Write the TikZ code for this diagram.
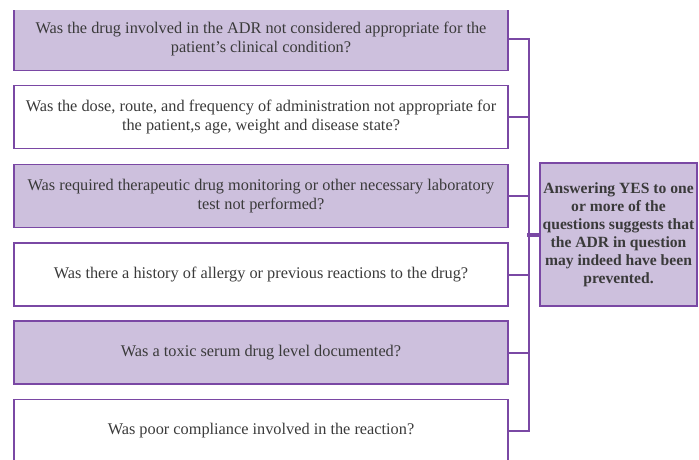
\documentclass[tikz,border=0pt]{standalone}
\usepackage{fontspec}
\setmainfont{Liberation Serif}
\usepackage{tikz}
\usetikzlibrary{positioning}
\definecolor{lilac}{RGB}{205,192,221}
\definecolor{plum}{RGB}{122,72,164}
\definecolor{ink}{RGB}{58,58,58}
\tikzset{
x=1pt, y=-1pt, % one unit is one pixel of the figure
question/.style={draw=plum, line width=1.8pt, minimum width=494pt, minimum height=63pt, align=center, text=ink, font=\fontsize{16.3}{19.5}\selectfont}, % the six question boxes
shaded/.style={question, fill=lilac}, % every second box is filled
answer/.style={draw=plum, line width=1.8pt, fill=lilac, minimum width=157pt, minimum height=143pt, inner xsep=1pt, align=center, text=ink, font=\bfseries\fontsize{15.6}{18}\selectfont}, % the box on the right
link/.style={draw=plum, line width=2pt}, % the bracket lines
}
\begin{document}
\begin{tikzpicture}

            \useasboundingbox (0,0) rectangle (699,459);
            \clip (0,10) rectangle (699,459);

            \node[shaded] (q1) at (261,39) {Was the drug involved in the ADR not considered appropriate for the\\ patient’s clinical condition?};
            \node[question] (q2) at (261,117) {Was the dose, route, and frequency of administration not appropriate for\\ the patient,s age, weight and disease state?};
            \node[shaded] (q3) at (261,196) {Was required therapeutic drug monitoring or other necessary laboratory\\ test not performed?};
            \node[question] (q4) at (261,274.5) {Was there a history of allergy or previous reactions to the drug?};
            \node[shaded] (q5) at (261,352.5) {Was a toxic serum drug level documented?};
            \node[question] (q6) at (261,431) {Was poor compliance involved in the reaction?};

            \node[answer] (ans) at (618.5,234.5) {Answering YES to one\\ or more of the\\ questions suggests that\\ the ADR in question\\ may indeed have been\\ prevented.};

            \draw[link] (q1.east) -- ++(20,0) coordinate (top) |- (q6.east);
            \draw[link] (q2.east) -- ++(20,0);
            \draw[link] (q3.east) -- ++(20,0);
            \draw[link] (q4.east) -- ++(20,0);
            \draw[link] (q5.east) -- ++(20,0);
            \draw[link, line width=4pt] (ans.west) -- ++(-12,0);
        \end{tikzpicture}
\end{document}
